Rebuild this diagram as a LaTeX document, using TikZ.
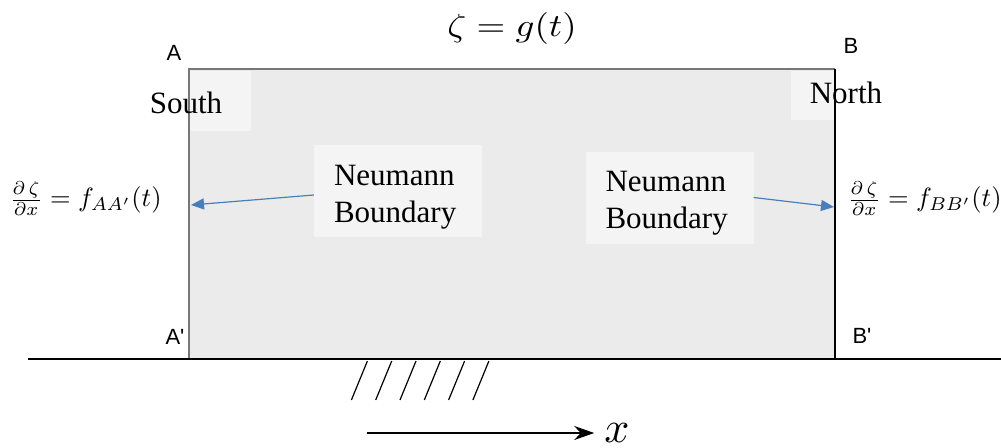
\documentclass[tikz,border=0pt]{standalone}
\usepackage{amsmath}
\usepackage{fontspec}
\setmainfont{Liberation Serif}
\newfontfamily\labelsans{Liberation Sans}
\usetikzlibrary{arrows.meta}
\definecolor{regionfill}{HTML}{EBEBEB}
\definecolor{boxfill}{HTML}{F4F4F4}
\definecolor{edgegray}{HTML}{777777}
\definecolor{arrowblue}{HTML}{4A7EBB}
\begin{document}
\begin{tikzpicture}[x=1pt,y=-1pt,
  corner/.style={font=\labelsans\fontsize{22}{22}\selectfont, inner sep=0pt},
  serif/.style={font=\fontsize{31}{37}\selectfont, inner sep=0pt},
  nbox/.style={fill=boxfill, draw=none, minimum width=168pt, minimum height=92pt, inner sep=0pt},
  ntext/.style={font=\fontsize{31}{37}\selectfont, align=left, text width=128pt, inner sep=0pt},
  mathlabel/.style={inner sep=0pt},
  bluearrow/.style={draw=arrowblue, line width=1.2pt, -{Triangle[length=13pt,width=11pt]}},
  hatch/.style={line width=1.2pt},
]
\useasboundingbox (0,0) rectangle (1001,447);
% region
\fill[regionfill] (189,69) rectangle (835,359);
\fill[boxfill] (189,71) rectangle (251,131);
\fill[boxfill] (791,71) rectangle (834,120);
\draw[edgegray, line width=2.2pt] (189,359) -- (189,69) -- (835,69);
\draw[black, line width=1.2pt] (835,69) -- (835,359);
\draw[black, line width=1.5pt] (28,359) -- (1001,359);
% hatches
\foreach \k in {0,...,5}{
  \draw[hatch] (367.4+24.3*\k,361) -- (351.4+24.3*\k,400);
}
% title
\node[mathlabel] (title) at (512,28) {\scalebox{3.7}[3.2]{$\zeta = g(t)$}};
% corner labels
\node[corner] (A) at (174,53) {A};
\node[corner] (B) at (851,46) {B};
\node[corner] (Ap) at (175,337) {A'};
\node[corner] (Bp) at (862,336) {B'};
% South / North
\node[serif] (south) at (186,103) {South};
\node[serif] (north) at (846,93) {North};
% Neumann boxes
\node[nbox] (nl) at (398,191) {};
\node[ntext] (nlt) at ([yshift=-6pt]nl.center) {Neumann\\Boundary};
\node[nbox] (nr) at (669.5,197.5) {};
\node[ntext] (nrt) at ([yshift=-6pt]nr.center) {Neumann\\Boundary};
% equations
\node[mathlabel] (eqL) at (85.5,199) {\scalebox{2.65}{$\frac{\partial\,\zeta}{\partial x} = f_{AA'}(t)$}};
\node[mathlabel] (eqR) at (924.5,199) {\scalebox{2.65}{$\frac{\partial\,\zeta}{\partial x} = f_{BB'}(t)$}};
% blue arrows
\coordinate (aL) at (191,205);
\coordinate (aR) at (834,207);
\draw[bluearrow] ([yshift=-4pt]nl.west) -- (aL);
\draw[bluearrow] (nr.east) -- (aR);
% x axis
\node[mathlabel] (xlab) at (617,433) {\scalebox{4.4}{$x$}};
\coordinate (xs) at (367,433);
\draw[line width=1.5pt, -{Stealth[length=20pt,width=14pt]}] (xs) -- ([xshift=-10pt]xlab.west);
\end{tikzpicture}
\end{document}
